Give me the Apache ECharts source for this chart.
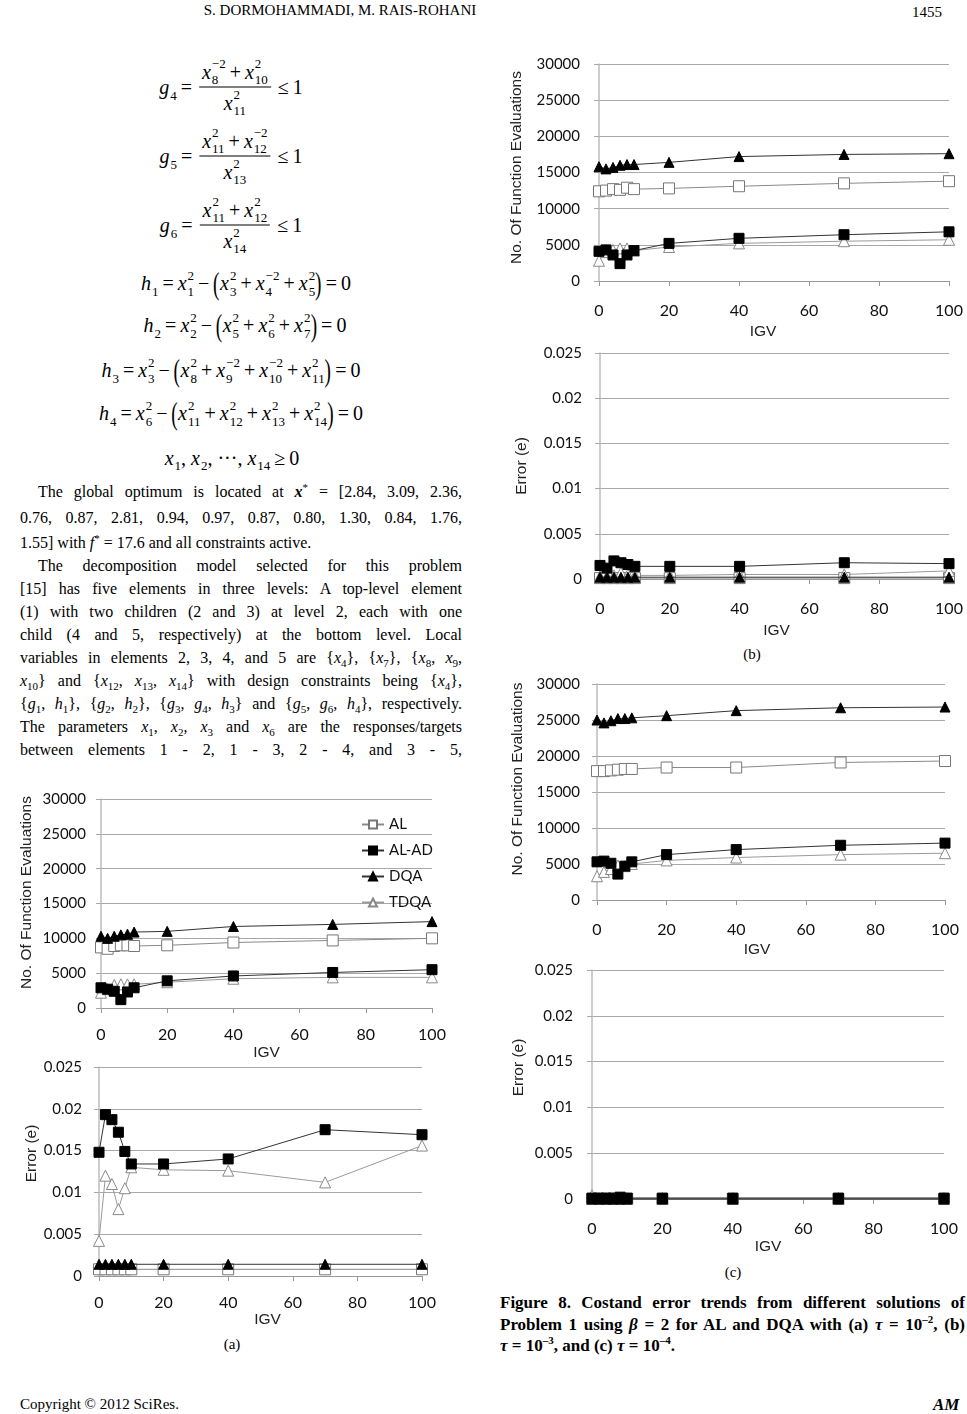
<!DOCTYPE html>
<html>
<head>
<meta charset="utf-8">
<script src="https://cdn.jsdelivr.net/npm/echarts@6/dist/echarts.min.js"></script>
<style>
    body { margin:0; background:#fff; }
    #page { position:relative; width:967px; height:1414px; overflow:hidden; background:#fff;
        font-family:'Liberation Serif', serif; color:#000; }
    #chart { position:absolute; left:0; top:0; width:967px; height:1414px; }
    .t { position:absolute; white-space:nowrap; }
    .ln { position:absolute; font-size:16px; line-height:20px; height:20px; text-align:justify; text-align-last:justify; }
    .ln.left { text-align:left; text-align-last:left; }
    .ln sub, .ln sup, .cap sup { font-size:11px; line-height:0; }
    .cap { position:absolute; font-size:17px; font-weight:bold; line-height:20px; height:20px; left:500px; width:465px;
        text-align:justify; text-align-last:justify; }
    .cap.left { text-align:left; text-align-last:left; }
    .eq { position:absolute; transform:translate(-50%,-50%); font-size:20px; white-space:nowrap;
        display:flex; align-items:center; }
    .v { display:inline-flex; align-items:center; }
    .ss { display:inline-flex; flex-direction:column; font-size:13px; line-height:12px; margin-left:1px; font-style:normal; }
    .ss .sp { position:relative; top:-2px; }
    .ss .sb { position:relative; top:2px; }
    .frac { display:inline-flex; flex-direction:column; align-items:center; margin:0 3px; }
    .frac .n { border-bottom:1px solid #000; padding:0 3px 3px; display:flex; align-items:center; }
    .frac .d { padding-top:3px; display:flex; align-items:center; }
    .op { margin:0 4px; }
    .par { font-size:32px; display:inline-block; transform:scaleX(0.6); margin:0 -2px; font-weight:normal; }
</style>
</head>
<body>
<div id="page">
    <div class="t" style="left:340px;top:2px;font-size:15px;transform:translateX(-50%);">S. DORMOHAMMADI, M. RAIS-ROHANI</div>
    <div class="t" style="left:912px;top:4px;font-size:15px;">1455</div>
    <div id="eqs"></div>
    <div class="ln" style="left:38px;top:482px;width:424px;">The global optimum is located at <b><i>x</i></b><sup>*</sup> = [2.84, 3.09, 2.36,</div>
    <div class="ln" style="left:20px;top:508px;width:442px;">0.76, 0.87, 2.81, 0.94, 0.97, 0.87, 0.80, 1.30, 0.84, 1.76,</div>
    <div class="ln left" style="left:20px;top:533px;width:442px;">1.55] with <i>f</i><sup>*</sup> = 17.6 and all constraints active.</div>
    <div class="ln" style="left:38px;top:556px;width:424px;">The decomposition model selected for this problem</div>
    <div class="ln" style="left:20px;top:579px;width:442px;">[15] has five elements in three levels: A top-level element</div>
    <div class="ln" style="left:20px;top:602px;width:442px;">(1) with two children (2 and 3) at level 2, each with one</div>
    <div class="ln" style="left:20px;top:625px;width:442px;">child (4 and 5, respectively) at the bottom level. Local</div>
    <div class="ln" style="left:20px;top:648px;width:442px;">variables in elements 2, 3, 4, and 5 are {<i>x</i><sub>4</sub>}, {<i>x</i><sub>7</sub>}, {<i>x</i><sub>8</sub>, <i>x</i><sub>9</sub>,</div>
    <div class="ln" style="left:20px;top:671px;width:442px;"><i>x</i><sub>10</sub>} and {<i>x</i><sub>12</sub>, <i>x</i><sub>13</sub>, <i>x</i><sub>14</sub>} with design constraints being {<i>x</i><sub>4</sub>},</div>
    <div class="ln" style="left:20px;top:694px;width:442px;">{<i>g</i><sub>1</sub>, <i>h</i><sub>1</sub>}, {<i>g</i><sub>2</sub>, <i>h</i><sub>2</sub>}, {<i>g</i><sub>3</sub>, <i>g</i><sub>4</sub>, <i>h</i><sub>3</sub>} and {<i>g</i><sub>5</sub>, <i>g</i><sub>6</sub>, <i>h</i><sub>4</sub>}, respectively.</div>
    <div class="ln" style="left:20px;top:717px;width:442px;">The parameters <i>x</i><sub>1</sub>, <i>x</i><sub>2</sub>, <i>x</i><sub>3</sub> and <i>x</i><sub>6</sub> are the responses/targets</div>
    <div class="ln" style="left:20px;top:740px;width:442px;">between elements 1 - 2, 1 - 3, 2 - 4, and 3 - 5,</div>

    <div class="t" style="left:752px;top:646px;font-size:15px;transform:translateX(-50%);">(b)</div>
    <div class="t" style="left:733px;top:1264px;font-size:15px;transform:translateX(-50%);">(c)</div>
    <div class="t" style="left:232px;top:1336px;font-size:15px;transform:translateX(-50%);">(a)</div>

    <div class="cap" style="top:1293px;">Figure 8. Costand error trends from different solutions of</div>
    <div class="cap" style="top:1315px;">Problem 1 using <i>β</i> = 2 for AL and DQA with (a) <i>τ</i> = 10<sup>–2</sup>, (b)</div>
    <div class="cap left" style="top:1336px;"><i>τ</i> = 10<sup>–3</sup>, and (c) <i>τ</i> = 10<sup>–4</sup>.</div>

    <div class="t" style="left:20px;top:1396px;font-size:15px;">Copyright © 2012 SciRes.</div>
    <div class="t" style="left:933px;top:1395px;font-size:17px;font-weight:bold;font-style:italic;">AM</div>

    <div id="chart"></div>
</div>
<script>
// IGV values shared by every panel
var igv = [0, 2, 4, 6, 8, 10, 20, 40, 70, 100];
var seriesNames = ['AL', 'AL-AD', 'DQA', 'TDQA'];

// (a) tau = 1e-2
var evalA_AL   = [8700, 8500, 8900, 9000, 9000, 8900, 9000, 9400, 9700, 10000];
var evalA_ALAD = [2900, 2700, 2400, 1200, 2300, 2900, 3900, 4600, 5100, 5500];
var evalA_DQA  = [10300, 10000, 10300, 10500, 10600, 10900, 11000, 11700, 12000, 12400];
var evalA_TDQA = [2200, 2700, 3300, 3400, 3400, 3400, 3700, 4200, 4400, 4400];
var errA_AL   = [0.0008, 0.0008, 0.0008, 0.0008, 0.0008, 0.0008, 0.0008, 0.0008, 0.0008, 0.0008];
var errA_ALAD = [0.0148, 0.0193, 0.0187, 0.0172, 0.0149, 0.0134, 0.0134, 0.0140, 0.0175, 0.0169];
var errA_DQA  = [0.0014, 0.0014, 0.0014, 0.0014, 0.0014, 0.0014, 0.0014, 0.0014, 0.0014, 0.0014];
var errA_TDQA = [0.0042, 0.0120, 0.0110, 0.0080, 0.0105, 0.0130, 0.0127, 0.0126, 0.0112, 0.0156];

// (b) tau = 1e-3
var evalB_AL   = [12400, 12500, 12700, 12600, 12900, 12700, 12800, 13100, 13500, 13800];
var evalB_ALAD = [4100, 4300, 3600, 2400, 3600, 4200, 5200, 5900, 6400, 6800];
var evalB_DQA  = [15800, 15500, 15700, 16000, 16100, 16100, 16400, 17200, 17500, 17600];
var evalB_TDQA = [2800, 4000, 4300, 4500, 4500, 4200, 4700, 5200, 5500, 5700];
var errB_AL   = [0.0001, 0.0001, 0.0001, 0.0001, 0.0001, 0.0001, 0.0001, 0.0001, 0.0001, 0.0001];
var errB_ALAD = [0.0015, 0.0012, 0.0020, 0.0018, 0.0016, 0.0014, 0.0014, 0.0014, 0.0018, 0.0017];
var errB_DQA  = [0.0002, 0.0002, 0.0002, 0.0002, 0.0002, 0.0002, 0.0002, 0.0002, 0.0002, 0.0002];
var errB_TDQA = [0.0003, 0.0003, 0.0004, 0.0007, 0.0005, 0.0004, 0.0004, 0.0005, 0.0005, 0.0009];

// (c) tau = 1e-4
var evalC_AL   = [17900, 17900, 18000, 18100, 18200, 18200, 18400, 18400, 19100, 19300];
var evalC_ALAD = [5300, 5400, 5100, 3600, 4700, 5300, 6300, 7000, 7600, 7900];
var evalC_DQA  = [25000, 24600, 24900, 25200, 25200, 25300, 25600, 26300, 26700, 26800];
var evalC_TDQA = [3300, 3900, 4300, 4800, 4700, 5000, 5500, 5900, 6300, 6500];
var errC_AL   = [0, 0, 0, 0, 0, 0, 0, 0, 0, 0];
var errC_ALAD = [0.0001, 0.0001, 0.0001, 0.0001, 0.0002, 0.0001, 0.0001, 0.0001, 0.0001, 0.0001];
var errC_DQA  = [0, 0, 0, 0, 0, 0, 0, 0, 0, 0];
var errC_TDQA = [0.0004, 0.0001, 0.0001, 0.0001, 0.0001, 0.0001, 0.0001, 0.0001, 0.0001, 0.0001];

var evalTicks = [0, 5000, 10000, 15000, 20000, 25000, 30000];
var errTicks = [0, 0.005, 0.01, 0.015, 0.02, 0.025];

// ---- equations (left column) ----
function v(b, sub, sup) {
    return '<span class="v"><i>' + b + '</i><span class="ss"><span class="sp">' + (sup || '&nbsp;') +
        '</span><span class="sb">' + (sub || '&nbsp;') + '</span></span></span>';
}
function op(s) { return '<span class="op">' + s + '</span>'; }
function frac(n, d) { return '<span class="frac"><span class="n">' + n + '</span><span class="d">' + d + '</span></span>'; }
var L = '<span class="par">(</span>', R = '<span class="par">)</span>';
var eqList = [
    [231, 87, v('g', '4') + op('=') + frac(v('x', '8', '&minus;2') + op('+') + v('x', '10', '2'), v('x', '11', '2')) + op('&le;') + '1'],
    [231, 156, v('g', '5') + op('=') + frac(v('x', '11', '2') + op('+') + v('x', '12', '&minus;2'), v('x', '13', '2')) + op('&le;') + '1'],
    [231, 225, v('g', '6') + op('=') + frac(v('x', '11', '2') + op('+') + v('x', '12', '2'), v('x', '14', '2')) + op('&le;') + '1'],
    [246, 283, v('h', '1') + op('=') + v('x', '1', '2') + op('&minus;') + L + v('x', '3', '2') + op('+') + v('x', '4', '&minus;2') + op('+') + v('x', '5', '2') + R + op('=') + '0'],
    [245, 325, v('h', '2') + op('=') + v('x', '2', '2') + op('&minus;') + L + v('x', '5', '2') + op('+') + v('x', '6', '2') + op('+') + v('x', '7', '2') + R + op('=') + '0'],
    [231, 370, v('h', '3') + op('=') + v('x', '3', '2') + op('&minus;') + L + v('x', '8', '2') + op('+') + v('x', '9', '&minus;2') + op('+') + v('x', '10', '&minus;2') + op('+') + v('x', '11', '2') + R + op('=') + '0'],
    [231, 413, v('h', '4') + op('=') + v('x', '6', '2') + op('&minus;') + L + v('x', '11', '2') + op('+') + v('x', '12', '2') + op('+') + v('x', '13', '2') + op('+') + v('x', '14', '2') + R + op('=') + '0'],
    [232, 458, v('x', '1') + ',&nbsp;' + v('x', '2') + ',&nbsp;&middot;&middot;&middot;,&nbsp;' + v('x', '14') + op('&ge;') + '0']
];
var eqHtml = '';
eqList.forEach(function (e) {
    eqHtml += '<div class="eq" style="left:' + e[0] + 'px;top:' + e[1] + 'px;">' + e[2] + '</div>';
});
document.getElementById('eqs').innerHTML = eqHtml;

// ---- charts ----
var panels = [
    {box: [101, 799, 331, 209], ticks: evalTicks, name: 'No. Of Function Evaluations', gap: 66, shift: 11, igvGap: 37, igvShift: 0, yM: 15, xM: 19,
        data: [evalA_AL, evalA_ALAD, evalA_DQA, evalA_TDQA]},
    {box: [99, 1067, 323, 209], ticks: errTicks, name: 'Error (e)', gap: 59, shift: 18, igvGap: 36, igvShift: 7, yM: 17, xM: 19,
        data: [errA_AL, errA_ALAD, errA_DQA, errA_TDQA]},
    {box: [599, 64, 350, 217], ticks: evalTicks, name: 'No. Of Function Evaluations', gap: 74, shift: 5, igvGap: 43, igvShift: -11, yM: 19, xM: 22,
        data: [evalB_AL, evalB_ALAD, evalB_DQA, evalB_TDQA]},
    {box: [600, 353, 349, 226], ticks: errTicks, name: 'Error (e)', gap: 70, shift: 0, igvGap: 44, igvShift: 2, yM: 18, xM: 22,
        data: [errB_AL, errB_ALAD, errB_DQA, errB_TDQA]},
    {box: [597, 684, 348, 216], ticks: evalTicks, name: 'No. Of Function Evaluations', gap: 71, shift: 13, igvGap: 42, igvShift: -14, yM: 17, xM: 22,
        data: [evalC_AL, evalC_ALAD, evalC_DQA, evalC_TDQA]},
    {box: [592, 970, 352, 229], ticks: errTicks, name: 'Error (e)', gap: 65, shift: 17, igvGap: 40, igvShift: 0, yM: 19, xM: 22,
        data: [errC_AL, errC_ALAD, errC_DQA, errC_TDQA]}
];

var looks = [
    {symbol: 'rect', size: 11, fill: '#fff', border: '#777', line: '#8a8a8a', z: 2},
    {symbol: 'rect', size: 10, fill: '#000', border: '#000', line: '#333', z: 4},
    {symbol: 'triangle', size: 10, fill: '#000', border: '#000', line: '#333', z: 3},
    {symbol: 'triangle', size: 11, fill: '#fff', border: '#888', line: '#9a9a9a', z: 2}
];

var gridColor = '#a8a8a8';
var grids = [], xAxes = [], yAxes = [], series = [];

panels.forEach(function (p, k) {
    var t = p.ticks;
    var step = t[1] - t[0];
    grids.push({left: p.box[0], top: p.box[1], width: p.box[2], height: p.box[3], containLabel: false});
    var igvPad = p.igvShift >= 0 ? [0, 0, 0, 2 * p.igvShift] : [0, -2 * p.igvShift, 0, 0];
    xAxes.push({
        gridIndex: k, type: 'value', min: 0, max: 100, interval: 20,
        name: 'IGV', nameLocation: 'middle', nameGap: p.igvGap,
        nameTextStyle: {fontFamily: 'Liberation Sans', fontSize: 15.5, color: '#222', padding: igvPad},
        axisLine: {show: true, onZero: false, lineStyle: {color: '#999', width: 1}},
        axisTick: {show: true, length: 5, lineStyle: {color: '#999'}},
        splitLine: {show: false},
        axisLabel: {margin: p.xM, fontFamily: 'Lato', fontSize: 16, color: '#111'}
    });
    yAxes.push({
        gridIndex: k, type: 'value', min: t[0], max: t[t.length - 1], interval: step,
        name: p.name, nameLocation: 'middle', nameGap: p.gap,
        nameTextStyle: {fontFamily: 'Liberation Sans', fontSize: 15.5, color: '#222', padding: [0, 0, 0, 2 * p.shift]},
        axisLine: {show: true, lineStyle: {color: '#bdbdbd', width: 1.5}},
        axisTick: {show: true, length: 5, lineStyle: {color: gridColor}},
        splitLine: {show: true, lineStyle: {color: gridColor, width: 1}},
        axisLabel: {margin: p.yM, fontFamily: 'Lato', fontSize: 15, color: '#111',
            formatter: function (val) { return String(+val.toFixed(4)); }}
    });
    p.data.forEach(function (vals, s) {
        var lk = looks[s];
        series.push({
            name: seriesNames[s], type: 'line', xAxisIndex: k, yAxisIndex: k, z: lk.z,
            data: igv.map(function (x, i) { return [x, vals[i]]; }),
            symbol: lk.symbol, symbolSize: lk.size, clip: false,
            itemStyle: {color: lk.fill, borderColor: lk.border, borderWidth: 1},
            lineStyle: {color: lk.line, width: 1},
            emphasis: {disabled: true}
        });
    });
});

var chart = echarts.init(document.getElementById('chart'), null, {renderer: 'canvas'});
chart.setOption({
    animation: false,
    backgroundColor: 'transparent',
    grid: grids,
    xAxis: xAxes,
    yAxis: yAxes,
    legend: {
        data: seriesNames, orient: 'vertical', left: 356, top: 812,
        itemWidth: 22, itemHeight: 10, itemGap: 11,
        textStyle: {fontFamily: 'Lato', fontSize: 15, color: '#111'}
    },
    series: series
});
</script>
</body>
</html>
